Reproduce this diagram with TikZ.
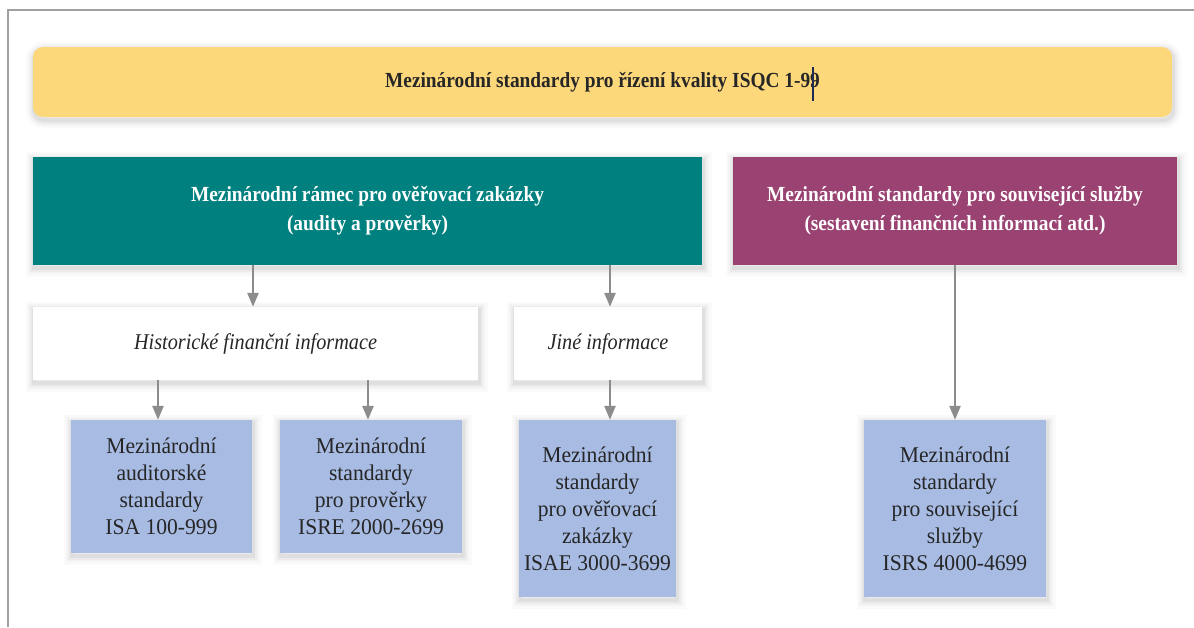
\documentclass[tikz,border=0pt]{standalone}
\usepackage{fontspec}
\setmainfont{Liberation Serif}
\newfontfamily\condfont[FakeStretch=0.9]{Liberation Serif}
\newfontfamily\boxfont[FakeStretch=0.96]{Liberation Serif}
\usetikzlibrary{arrows.meta}
\definecolor{frameg}{HTML}{A0A0A0}
\definecolor{ylw}{HTML}{FDD87A}
\definecolor{tealc}{HTML}{00817F}
\definecolor{purp}{HTML}{9A4271}
\definecolor{blu}{HTML}{A7BBE3}
\definecolor{arrg}{HTML}{8C8C8C}
\definecolor{txt}{HTML}{262626}
\definecolor{curs}{HTML}{1F2A55}
\tikzset{
  shad/.style={
    preaction={draw=black, opacity=0.018, line width=17pt, transform canvas={xshift=1pt,yshift=-3pt}},
    preaction={draw=black, opacity=0.025, line width=12pt, transform canvas={xshift=1pt,yshift=-3pt}},
    preaction={draw=black, opacity=0.035, line width=8pt, transform canvas={xshift=1pt,yshift=-3pt}},
    preaction={draw=black, opacity=0.05, line width=4pt, transform canvas={xshift=1pt,yshift=-3pt}}},
  bannerbox/.style={shad, rectangle, rounded corners=10pt, fill=ylw, inner sep=0pt, align=center,
    text=txt, font=\condfont\bfseries\fontsize{21.5}{29}\selectfont},
  headbox/.style={shad, rectangle, inner sep=0pt, align=center, text=white,
    font=\condfont\bfseries\fontsize{21.5}{29}\selectfont},
  infobox/.style={shad, rectangle, fill=white, inner sep=0pt, align=center, text=txt,
    font=\condfont\itshape\fontsize{22.5}{29}\selectfont},
  stdbox/.style={shad, rectangle, fill=blu, inner sep=0pt, align=center, text=txt,
    font=\boxfont\fontsize{22.5}{27}\selectfont},
  arr/.style={draw=arrg, line width=2.5pt, -{Triangle[length=14pt,width=11pt]}}
}
\begin{document}
\begin{tikzpicture}[x=1pt,y=-1pt]
\useasboundingbox (0,0) rectangle (1194,627);
\fill[white] (0,0) rectangle (1194,627);
% frame
\draw[frameg, line width=2pt] (8,627) -- (8,10) -- (1194,10);

\node[bannerbox, minimum width=1139pt, minimum height=70pt] (banner) at (602.5,82)
  {Mezinárodní standardy pro řízení kvality ISQC 1-99};
\draw[curs, line width=1.2pt] (813,67) -- (813,101);

\node[headbox, fill=tealc, minimum width=669pt, minimum height=108pt] (teal) at (367.5,211)
  {Mezinárodní rámec pro ověřovací zakázky\\(audity a prověrky)};
\node[headbox, fill=purp, minimum width=444pt, minimum height=108pt] (purple) at (955,211)
  {Mezinárodní standardy pro související služby\\(sestavení finančních informací atd.)};

\node[infobox, minimum width=445pt, minimum height=73pt] (hist) at (255.5,343.5)
  {Historické finanční informace};
\node[infobox, minimum width=188pt, minimum height=73pt] (jine) at (608,343.5)
  {Jiné informace};

\node[stdbox, minimum width=181pt, minimum height=133pt] (isa) at (161.5,486.5)
  {Mezinárodní\\auditorské\\standardy\\ISA 100-999};
\node[stdbox, minimum width=182pt, minimum height=133pt] (isre) at (371,486.5)
  {Mezinárodní\\standardy\\pro prověrky\\ISRE 2000-2699};
\node[stdbox, minimum width=157pt, minimum height=177pt] (isae) at (597.5,508.5)
  {Mezinárodní\\standardy\\pro ověřovací\\zakázky\\ISAE 3000-3699};
\node[stdbox, minimum width=182pt, minimum height=177pt] (isrs) at (955,508.5)
  {Mezinárodní\\standardy\\pro související\\služby\\ISRS 4000-4699};

\draw[arr] (teal.south -| 253,0) -- (hist.north -| 253,0);
\draw[arr] (teal.south -| 610,0) -- (jine.north -| 610,0);
\draw[arr] (hist.south -| 158,0) -- (isa.north -| 158,0);
\draw[arr] (hist.south -| 368,0) -- (isre.north -| 368,0);
\draw[arr] (jine.south -| 610,0) -- (isae.north -| 610,0);
\draw[arr] (purple.south) -- (isrs.north);
\end{tikzpicture}
\end{document}
